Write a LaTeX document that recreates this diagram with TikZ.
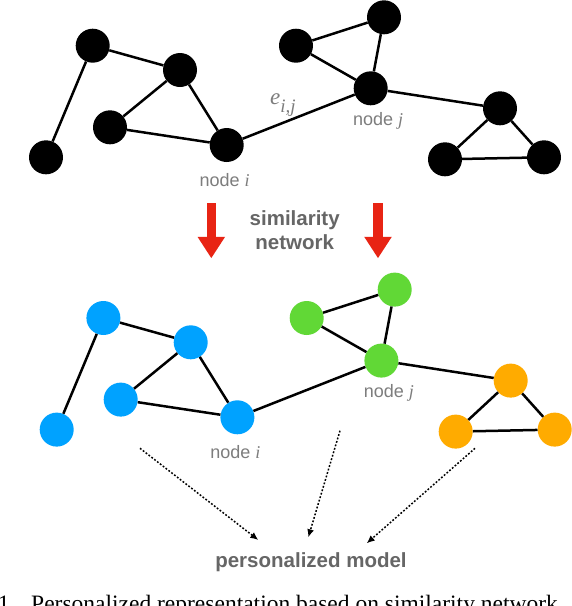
\documentclass[tikz,border=0pt]{standalone}
\usepackage{fontspec}
\setmainfont{Liberation Serif}
\newfontfamily\helv{Liberation Sans}
\usetikzlibrary{arrows.meta}
\definecolor{nblue}{RGB}{0,162,255}
\definecolor{ngreen}{RGB}{97,216,54}
\definecolor{norange}{RGB}{255,171,0}
\definecolor{nred}{RGB}{232,36,20}
\definecolor{tgray}{RGB}{102,102,102}
\definecolor{lgray}{RGB}{125,125,125}
\newcommand\mygraph[6]{%
  \begin{scope}[shift={(#2,#3)}]
    \node[vert,fill=#4] (#1a) at (92.7,45.7) {};
    \node[vert,fill=#4] (#1b) at (46,157.3) {};
    \node[vert,fill=#4] (#1c) at (180,70) {};
    \node[vert,fill=#4] (#1d) at (110,127.3) {};
    \node[vert,fill=#4] (#1i) at (226.7,145) {};
    \node[vert,fill=#5] (#1t) at (296,45.7) {};
    \node[vert,fill=#5] (#1u) at (384,17.3) {};
    \node[vert,fill=#5] (#1j) at (370.7,88.3) {};
    \node[vert,fill=#6] (#1r) at (500,108.3) {};
    \node[vert,fill=#6] (#1s) at (445,159.3) {};
    \node[vert,fill=#6] (#1q) at (544,157.3) {};
    \node[lab] (#1li) at (199.5,186) {node {\rmfamily\itshape i}};
    \node[lab] (#1lj) at (353,125) {node {\rmfamily\itshape j}};
  \end{scope}
  \draw[edge] (#1a) -- (#1b);
  \draw[edge] (#1a) -- (#1c);
  \draw[edge] (#1c) -- (#1d);
  \draw[edge] (#1c) -- (#1i);
  \draw[edge] (#1d) -- (#1i);
  \draw[edge] (#1i) -- (#1j);
  \draw[edge] (#1t) -- (#1u);
  \draw[edge] (#1t) -- (#1j);
  \draw[edge] (#1u) -- (#1j);
  \draw[edge] (#1j) -- (#1r);
  \draw[edge] (#1r) -- (#1s);
  \draw[edge] (#1r) -- (#1q);
  \draw[edge] (#1s) -- (#1q);
}
\begin{document}
\begin{tikzpicture}[x=1pt,y=-1pt,
  vert/.style={circle,inner sep=0pt,minimum size=34pt},
  edge/.style={line width=2.5pt,black},
  lab/.style={font=\helv\fontsize{18}{18}\selectfont,text=lgray,inner sep=0pt,anchor=base west},
  boldlab/.style={font=\helv\bfseries\fontsize{20.5}{24}\selectfont,text=tgray,inner sep=0pt,anchor=base},
  dotarrow/.style={line width=1.5pt,dash pattern=on 1.8pt off 1.8pt,-{Latex[length=8pt,width=7pt]}},
  redarrow/.style={line width=9.3pt,nred,-{Triangle[length=21.5pt,width=26pt]}}]
\useasboundingbox (0,0) rectangle (572,606);
\fill[white] (0,0) rectangle (572,606);
\mygraph{t}{0}{0}{black}{black}{black}
\mygraph{b}{10.7}{272.3}{nblue}{ngreen}{norange}
\node[anchor=base west,inner sep=0pt,text=lgray] (eij) at (270,104)
  {{\fontsize{23}{23}\selectfont\itshape e}\raisebox{-8.5pt}{\fontsize{19}{19}\selectfont\itshape i,j}};
% red arrows
\coordinate (r1s) at (211.3,203); \coordinate (r1e) at (211.3,258.3);
\coordinate (r2s) at (378,203); \coordinate (r2e) at (378,258.3);
\draw[redarrow] (r1s) -- (r1e);
\draw[redarrow] (r2s) -- (r2e);
\node[boldlab] (sim1) at (294.7,225) {similarity};
\node[boldlab] (sim2) at (294.7,249.3) {network};
% dotted arrows
\node[boldlab] (pm) at (311,567) {personalized model};
\coordinate (d1s) at (140,448.3); \coordinate (d1e) at (258.3,540);
\coordinate (d2s) at (340,430.7); \coordinate (d2e) at (308.3,537.3);
\coordinate (d3s) at (475,448.3); \coordinate (d3e) at (366.7,543.3);
\draw[dotarrow] (d1s) -- (d1e);
\draw[dotarrow] (d2s) -- (d2e);
\draw[dotarrow] (d3s) -- (d3e);
% caption (cut by the frame, as in the reference)
\node[anchor=base west,inner sep=0pt,font=\fontsize{23.5}{23.5}\selectfont] (cnum) at (-2.3,611) {1};
\node[anchor=base west,inner sep=0pt,font=\fontsize{23.5}{23.5}\selectfont] (cap) at (31,611) {Personalized representation based on similarity network};
\end{tikzpicture}
\end{document}
